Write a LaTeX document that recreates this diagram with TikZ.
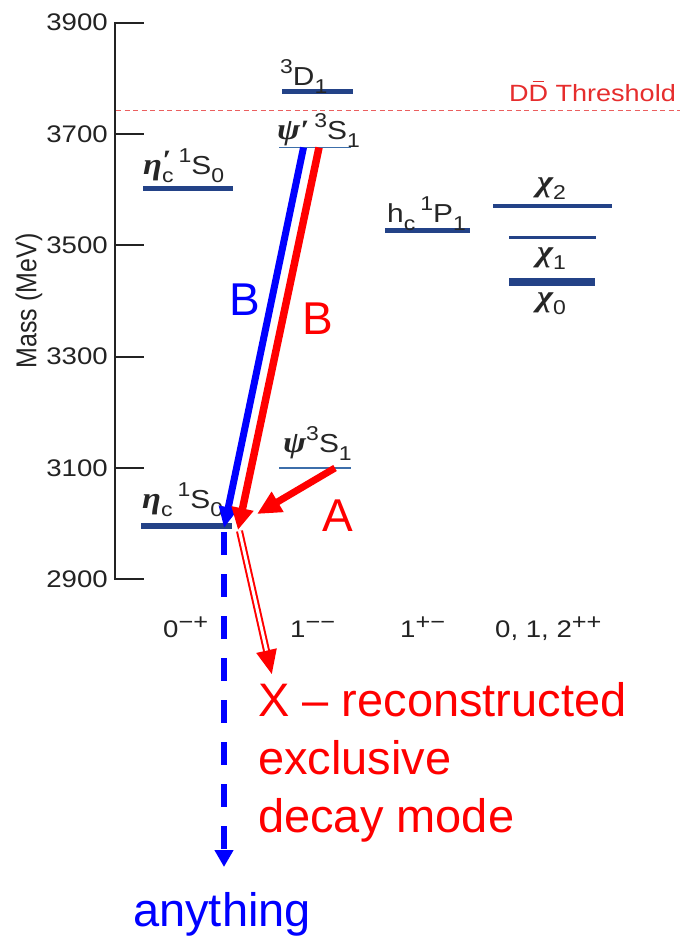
\documentclass[tikz,border=0pt]{standalone}
\usepackage{fontspec}
\setmainfont{Liberation Sans}
\newfontfamily\grkfont{Liberation Serif}
\usetikzlibrary{arrows.meta}
\definecolor{lvl}{RGB}{35,66,135}
\definecolor{lvlthin}{RGB}{60,110,170}
\definecolor{thr}{RGB}{235,95,95}
\definecolor{thrtxt}{RGB}{230,45,45}
\definecolor{axc}{RGB}{35,35,35}
\newcommand\fsz[1]{\fontsize{#1}{#1}\selectfont}
\newcommand\gk[1]{{\grkfont\bfseries\itshape #1}}
\newcommand\lo[1]{\raisebox{-8pt}{\fsz{20}#1}}
\newcommand\hi[1]{\raisebox{12pt}{\fsz{20}#1}}
\newcommand\qhi[1]{\raisebox{8pt}{\fsz{22}#1}}
\newcommand\wide[1]{\scalebox{1.15}[1]{#1}}
\begin{document}
\begin{tikzpicture}[x=1pt,y=-1pt,
  level/.style={lvl,line width=#1},
  thinlevel/.style={lvlthin,line width=1.4pt},
  axline/.style={axc,line width=2pt},
  ticklab/.style={axc,inner sep=0pt,anchor=east,font=\fsz{24}},
  statelab/.style={black!85,inner sep=0pt,anchor=base west,font=\fsz{26}},
  qnlab/.style={axc,inner sep=0pt,anchor=base west,font=\fsz{24}},
  bigred/.style={red,inner sep=0pt,anchor=base west,font=\fsz{47}},
  bigblue/.style={blue,inner sep=0pt,anchor=base west,font=\fsz{47}},
  letter/.style={inner sep=0pt,anchor=base west,font=\fsz{46}},
  fatarrow/.style={line width=#1}
]
\useasboundingbox (0,0) rectangle (680,936);
\fill[white] (0,0) rectangle (680,936);

% axis
\coordinate (axtop) at (115,22.7);
\coordinate (axbot) at (115,579.2);
\draw[axline] (axtop) -- (axbot);
\foreach \m/\yy in {3900/22.7,3700/134,3500/245.3,3300/356.6,3100/467.9,2900/579.2}{
  \draw[axline] (114,\yy) -- (144,\yy);
  \node[ticklab] (t\m) at (108,\yy) {\wide{\m}};
}
\node[axc,rotate=90,inner sep=0pt,font=\fsz{25}] (mass) at (29,301) {\scalebox{1}[1.15]{Mass (MeV)}};

% threshold
\coordinate (thrL) at (116,110.7);
\coordinate (thrR) at (680,110.7);
\draw[thr,line width=1.2pt,dash pattern=on 5pt off 3.5pt] (thrL) -- (thrR);
\node[thrtxt,inner sep=0pt,anchor=base east,font=\fsz{23.5}] (thrlab) at (676,102)
  {\wide{D\ooalign{D\cr\hidewidth\raisebox{0.84em}{\rule{0.42em}{0.07em}}\hidewidth\cr} Threshold}};

% levels
\coordinate (etacpL) at (143,188); \coordinate (etacpR) at (233,188);
\draw[level=5pt] (etacpL) -- (etacpR);
\coordinate (dL) at (282,92); \coordinate (dR) at (353,92);
\draw[level=5pt] (dL) -- (dR);
\coordinate (psipL) at (279,147.3); \coordinate (psipR) at (351,147.3);
\draw[thinlevel] (psipL) -- (psipR);
\coordinate (hcL) at (385,230); \coordinate (hcR) at (470,230);
\draw[level=5pt] (hcL) -- (hcR);
\coordinate (c2L) at (493,206); \coordinate (c2R) at (612,206);
\draw[level=4pt] (c2L) -- (c2R);
\coordinate (c1L) at (509,237.5); \coordinate (c1R) at (596,237.5);
\draw[level=3.5pt] (c1L) -- (c1R);
\coordinate (c0L) at (509,282); \coordinate (c0R) at (595,282);
\draw[level=8pt] (c0L) -- (c0R);
\coordinate (psiL) at (279,468); \coordinate (psiR) at (351,468);
\draw[thinlevel] (psiL) -- (psiR);
\coordinate (etacL) at (141,526); \coordinate (etacR) at (232,526);
\draw[level=6pt] (etacL) -- (etacR);

% state labels
\node[statelab] (letacp) at (143,175) {\wide{\gk{\fsz{30}η}\rlap{\raisebox{5pt}{\gk{\fsz{28}′}}}\lo{c}\,\hi{1}S\lo{0}}};
\node[statelab] (ld) at (280,86) {\wide{\hi{3}D\lo{1}}};
\node[statelab] (lpsip) at (277,140) {\wide{\gk{\fsz{30}ψ}\gk{\fsz{28}′}\,\hi{3}S\lo{1}}};
\node[statelab] (lhc) at (387,222) {\wide{h\lo{c}\,\hi{1}P\lo{1}}};
\node[statelab] (lc2) at (537,192) {\wide{\gk{\fsz{30}χ}\lo{2}}};
\node[statelab] (lc1) at (537,261) {\wide{\gk{\fsz{30}χ}\lo{1}}};
\node[statelab] (lc0) at (537,306) {\wide{\gk{\fsz{30}χ}\lo{0}}};
\node[statelab] (lpsi) at (283,452) {\wide{\gk{\fsz{30}ψ}\hi{3}S\lo{1}}};
\node[statelab] (letac) at (142,508) {\wide{\gk{\fsz{30}η}\lo{c}\,\hi{1}S\lo{0}}};

% quantum numbers
\node[qnlab] (q1) at (163,637) {\wide{0\qhi{−+}}};
\node[qnlab] (q2) at (290,637) {\wide{1\qhi{−−}}};
\node[qnlab] (q3) at (400,637) {\wide{1\qhi{+−}}};
\node[qnlab] (q4) at (495,637) {\wide{0, 1, 2\qhi{++}}};

% transitions
\coordinate (bbS) at (303.5,147.5); \coordinate (bbE) at (224,528);
\coordinate (rbS) at (319,147.5);   \coordinate (rbE) at (238,530);
\coordinate (raS) at (335,468);     \coordinate (raE) at (257,514);
\coordinate (dS) at (239.5,531);    \coordinate (dE) at (272,675);
\coordinate (anyS) at (224,532);    \coordinate (anyE) at (224,867);

\draw[blue,line width=5.5pt,dash pattern=on 23pt off 19pt,-{Triangle[length=17pt,width=18pt]}] (anyS) -- (anyE);
\draw[red,line width=7pt,-{Triangle[length=25pt,width=19pt]}] (dS) -- (dE);
\draw[white,line width=3pt,shorten >=25pt] (dS) -- (dE);
\draw[blue,fatarrow=7pt,-{Triangle[length=21pt,width=18pt]}] (bbS) -- (bbE);
\draw[red,fatarrow=7.5pt,-{Triangle[length=22pt,width=21pt]}] (rbS) -- (rbE);
\draw[red,fatarrow=7pt,-{Triangle[length=24pt,width=22pt]}] (raS) -- (raE);

% letters
\node[letter,blue] (Bb) at (229,315) {B};
\node[letter,red] (Br) at (302,334) {B};
\node[letter,red] (Ar) at (322,531) {A};

% red text and anything
\node[bigred] (x1) at (258,716) {X – reconstructed};
\node[bigred] (x2) at (258,774) {exclusive};
\node[bigred] (x3) at (258,832) {decay mode};
\node[bigblue] (any) at (133,926) {anything};
\end{tikzpicture}
\end{document}
